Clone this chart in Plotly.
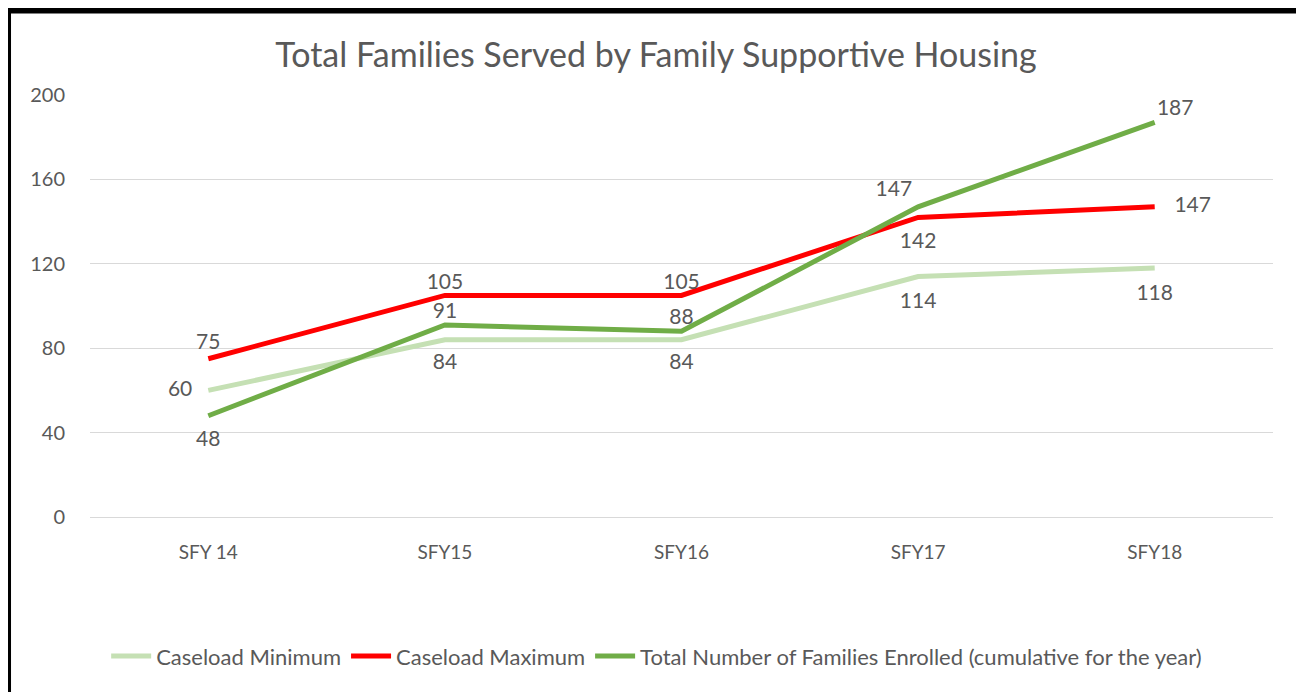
import plotly.graph_objects as go

years = ["SFY 14", "SFY15", "SFY16", "SFY17", "SFY18"]
caseload_min = [60, 84, 84, 114, 118]
caseload_max = [75, 105, 105, 142, 147]
total_enrolled = [48, 91, 88, 147, 187]

y_ticks = [0, 40, 80, 120, 160, 200]

FONT = "Lato"
GREY = "#595959"
LABEL_SIZE = 21

# invisible markers only push the data labels away from the line
HIDDEN = 'rgba(0,0,0,0)'

fig = go.Figure()

# Caseload minimum - light green
fig.add_trace(go.Scatter(
    x=years,
    y=caseload_min,
    mode='lines+markers+text',
    name='Caseload Minimum',
    line=dict(color='#C5E0B4', width=5),
    marker=dict(size=[24, 20, 20, 24, 24], color=HIDDEN, line=dict(width=0)),
    text=[str(v) for v in caseload_min],
    textposition=['middle left', 'bottom center', 'bottom center', 'bottom center', 'bottom center'],
    textfont=dict(size=LABEL_SIZE, color=GREY, family=FONT),
))

# Caseload maximum - red
fig.add_trace(go.Scatter(
    x=years,
    y=caseload_max,
    mode='lines+markers+text',
    name='Caseload Maximum',
    line=dict(color='#FF0000', width=5),
    marker=dict(size=[6, 1, 1, 22, 30], color=HIDDEN, line=dict(width=0)),
    text=[str(v) for v in caseload_max],
    textposition=['top center', 'top center', 'top center', 'bottom center', 'middle right'],
    textfont=dict(size=LABEL_SIZE, color=GREY, family=FONT),
))

# Total enrolled - green
fig.add_trace(go.Scatter(
    x=years,
    y=total_enrolled,
    mode='lines+markers+text',
    name='Total Number of Families Enrolled (cumulative for the year)',
    line=dict(color='#70AD47', width=5),
    marker=dict(size=[22, 1, 1, 8, 2], color=HIDDEN, line=dict(width=0)),
    text=[str(v) for v in total_enrolled],
    textposition=['bottom center', 'top center', 'top center', 'top left', 'top right'],
    textfont=dict(size=LABEL_SIZE, color=GREY, family=FONT),
))

# Black frame around the chart
fig.add_shape(
    type='rect', xref='paper', yref='paper',
    x0=-0.0693, x1=1.028, y0=-0.45, y1=1.2,
    line=dict(color='black', width=6),
    layer='above'
)

# page sits 8px in from the window edge, margins compensate
fig.update_layout(
    title=dict(
        text='Total Families Served by Family Supportive Housing',
        x=0.5, xanchor='center', y=0.931, yanchor='middle',
        font=dict(size=34, color=GREY, family=FONT)
    ),
    width=1296,
    height=684,
    margin=dict(l=82, r=31, t=87, b=175),
    plot_bgcolor='white',
    paper_bgcolor='white',
    showlegend=True,
    legend=dict(
        orientation='h',
        x=0.479, xanchor='center',
        y=-0.33, yanchor='middle',
        font=dict(size=22, color=GREY, family=FONT),
        itemwidth=40,
        traceorder='normal'
    ),
    xaxis=dict(
        type='category',
        range=[-0.5, 4.5],
        showgrid=False,
        showline=False,
        ticks='outside', ticklen=18, tickcolor=HIDDEN,
        tickfont=dict(size=19, color=GREY, family=FONT),
    ),
    yaxis=dict(
        range=[0, 200],
        tickvals=y_ticks,
        showgrid=True,
        gridcolor='#D9D9D9',
        gridwidth=1,
        zeroline=True,
        zerolinecolor='#D9D9D9',
        zerolinewidth=1,
        ticks='outside', ticklen=20, tickcolor=HIDDEN,
        tickfont=dict(size=20, color=GREY, family=FONT),
    ),
)

fig.write_html("out.html")
